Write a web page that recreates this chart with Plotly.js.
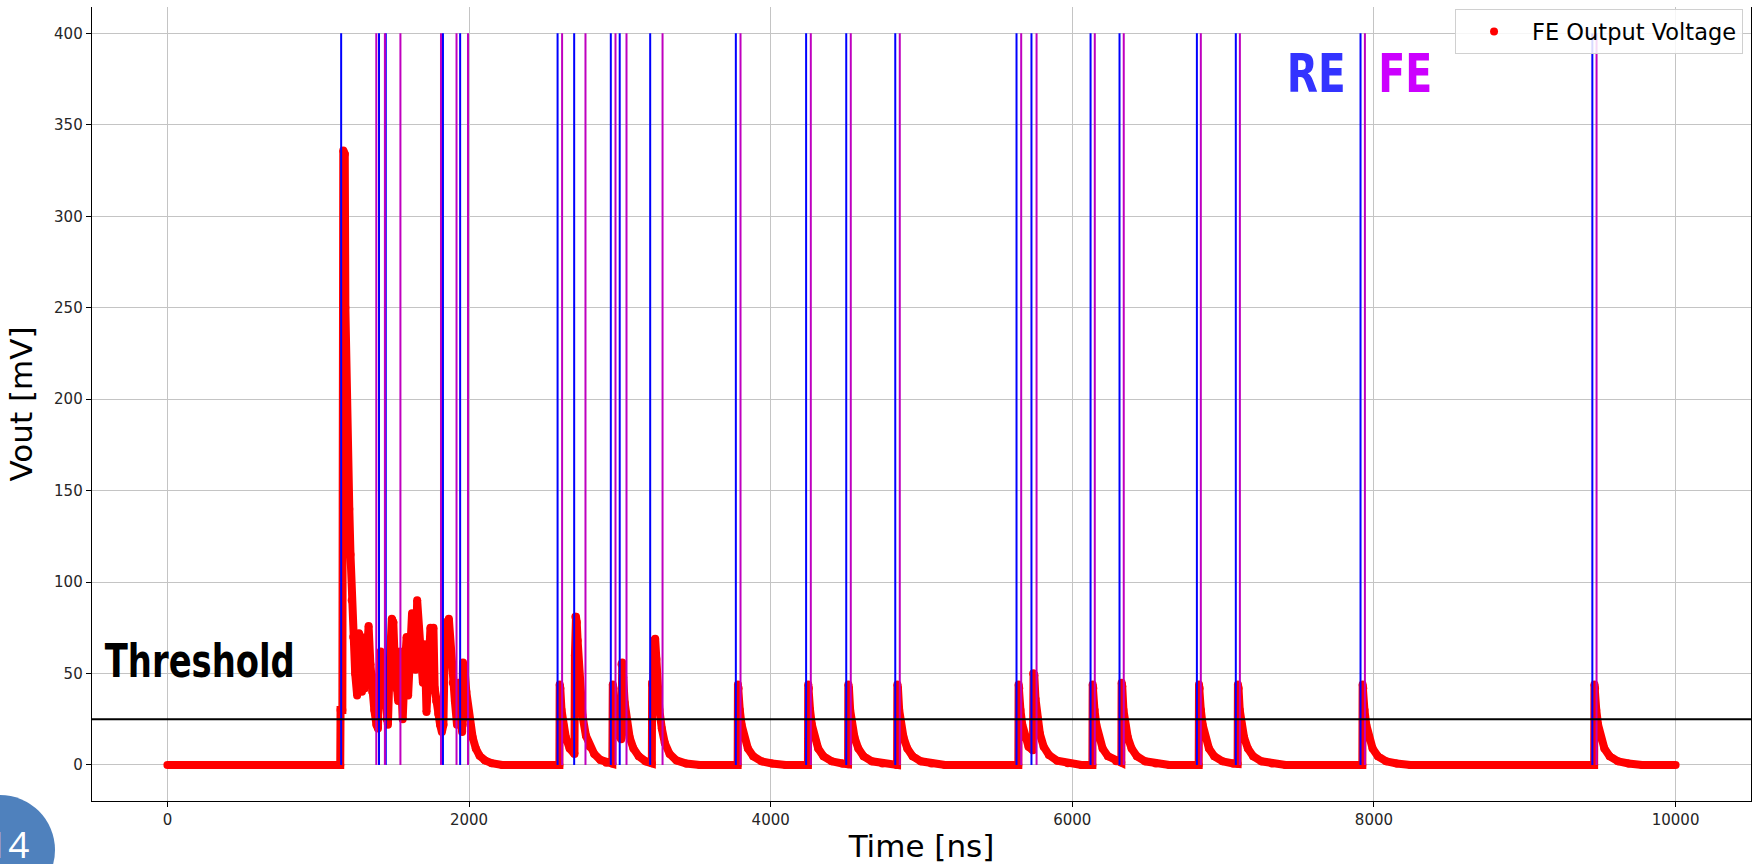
<!DOCTYPE html>
<html>
<head>
<meta charset="utf-8">
<script src="https://cdn.plot.ly/plotly-3.0.1.min.js"></script>
<style>html,body{margin:0;padding:0;background:#fff;}#chart{width:1756px;height:864px;}</style>
</head>
<body>
<div id="chart"></div>
<script>
// FE output voltage (time in ns, voltage in mV)
const timeNs = [
  0, 1146, 1148, 1160, 1166, 1176, 1180, 1186, 1196, 1206, 1214, 1222, 1232, 1245, 1258,
  1270, 1282, 1290, 1300, 1310, 1322, 1334, 1346, 1358, 1372, 1386, 1396, 1404, 1414, 1426,
  1440, 1454, 1462, 1474, 1488, 1498, 1508, 1516, 1530, 1542, 1552, 1560, 1572, 1586, 1596,
  1608, 1622, 1634, 1645, 1656, 1668, 1680, 1694, 1706, 1718, 1730, 1744, 1755, 1764, 1772,
  1782, 1796, 1808, 1820, 1830, 1842, 1856, 1866, 1878, 1892, 1906, 1920, 1932, 1944, 1954,
  1960, 1970, 1982, 1994, 2008, 2024, 2045, 2070, 2105, 2150, 2220,
  2599, 2601, 2605, 2613, 2625, 2642, 2667, 2699,
  2702, 2705, 2709, 2714, 2720, 2728, 2738, 2752, 2775, 2800, 2830, 2870, 2910, 2950,
  2953, 2957, 2966, 2978, 2995, 3009,
  3011, 3016, 3022, 3032, 3046, 3065, 3090, 3125, 3170, 3212,
  3214, 3222, 3228, 3234, 3242, 3250, 3262, 3278, 3298, 3330, 3375, 3440, 3530,
  3781, 3783, 3787, 3795, 3807, 3824, 3849, 3884, 3939, 4009, 4099,
  4247, 4249, 4253, 4261, 4273, 4290, 4315, 4350, 4405, 4475, 4513,
  4515, 4519, 4527, 4539, 4556, 4581, 4616, 4671, 4741, 4836,
  4838, 4840, 4844, 4852, 4864, 4881, 4906, 4941, 4996, 5066, 5156,
  5642, 5644, 5648, 5656, 5668, 5685, 5710, 5739,
  5741, 5743, 5748, 5756, 5768, 5785, 5810, 5845, 5900, 5970, 6060,
  6133, 6135, 6139, 6147, 6159, 6176, 6201, 6236, 6291, 6325,
  6327, 6331, 6339, 6351, 6368, 6393, 6428, 6483, 6553, 6643,
  6838, 6840, 6844, 6852, 6864, 6881, 6906, 6941, 6996, 7066, 7096,
  7098, 7102, 7110, 7122, 7139, 7164, 7199, 7254, 7324, 7414,
  7923, 7925, 7929, 7937, 7949, 7966, 7991, 8026, 8081, 8151, 8241,
  9460, 9462, 9466, 9474, 9486, 9503, 9528, 9563, 9618, 9688, 9778, 10000
];
const voutMv = [
  0, 0, 30, 30, 336, 334, 250, 200, 170, 140, 115, 90, 70, 50, 38,
  72, 70, 40, 55, 42, 70, 76, 55, 40, 30, 22, 20, 48, 62, 55,
  38, 25, 22, 55, 80, 78, 55, 42, 35, 62, 45, 25, 50, 70, 38,
  62, 83, 62, 52, 90, 75, 58, 45, 66, 29, 50, 75, 55, 75, 42,
  35, 28, 22, 18, 22, 78, 62, 80, 62, 45, 35, 22, 45, 30, 18,
  56, 52, 40, 30, 22, 15, 9, 5, 2.5, 1, 0,
  0, 44, 42, 30, 22, 15, 9, 6,
  60, 81, 81, 78, 68, 52, 40, 27, 16, 10, 6, 2.8, 1.2, 0.8,
  44, 42, 30, 22, 16, 14,
  55, 56, 48, 34, 23, 15, 9, 4.8, 2, 0.9,
  44, 44, 68, 69, 58, 42, 30, 20, 12, 6, 2.5, 0.8, 0,
  0, 44, 42, 30, 22, 15, 9, 4.8, 2, 0.8, 0,
  0, 44, 42, 30, 22, 15, 9, 4.8, 2, 0.8, 0.4,
  44, 42, 30, 22, 15, 9, 4.8, 2, 0.8, 0.1,
  0, 44, 42, 30, 22, 15, 9, 4.8, 2, 0.8, 0,
  0, 44, 42, 30, 22, 15, 10, 8,
  50, 50, 49, 36, 26, 17, 10, 5.5, 2.3, 0.9, 0,
  0, 44, 42, 30, 22, 15, 9, 4.8, 2, 1.3,
  45, 43, 30, 22, 15, 9, 4.8, 2, 0.8, 0,
  0, 44, 42, 30, 22, 15, 9, 4.8, 2, 0.8, 0.6,
  44, 42, 30, 22, 15, 9, 4.8, 2, 0.8, 0,
  0, 44, 42, 30, 22, 15, 9, 4.8, 2, 0.8, 0,
  0, 44, 42, 30, 22, 15, 9, 4.8, 2, 0.8, 0, 0
];
// Rising-edge (RE) and falling-edge (FE) event times, ns
const reTimes = [1152, 1403, 1448, 1827, 1941, 2587, 2697, 2940, 2999, 3201, 3769, 4235,
  4501, 4826, 5630, 5729, 6121, 6313, 6826, 7084, 7911, 9448];
const feTimes = [1385, 1442, 1545, 1814, 1917, 1993, 2617, 2772, 2971, 3044, 3283, 3800,
  4266, 4531, 4856, 5661, 5763, 6149, 6341, 6852, 7111, 7940, 9476];
const eventLineTop = 400;   // mV, height of event lines
const threshold = 25;       // mV
const xTicks = [0, 2000, 4000, 6000, 8000, 10000];
const yTicks = [0, 50, 100, 150, 200, 250, 300, 350, 400];

function vlines(ts) {
  const x = [], y = [];
  ts.forEach(t => { x.push(t, t, null); y.push(0, eventLineTop, null); });
  return {x, y};
}
const re = vlines(reTimes), fe = vlines(feTimes);

const traces = [
  {x: timeNs, y: voutMv, type: 'scatter', mode: 'lines', showlegend: false,
   line: {color: '#ff0000', width: 8}, hoverinfo: 'skip'},
  {x: timeNs, y: voutMv, type: 'scatter', mode: 'markers', name: 'FE Output Voltage',
   marker: {color: '#ff0000', size: 8}},
  {x: re.x, y: re.y, type: 'scatter', mode: 'lines', showlegend: false,
   line: {color: '#0000ff', width: 2}},
  {x: fe.x, y: fe.y, type: 'scatter', mode: 'lines', showlegend: false,
   line: {color: '#bf00bf', width: 2}}
];

const narrow = 'DejaVu Sans Condensed, DejaVu Sans, sans-serif';
const layout = {
  width: 1756, height: 864,
  margin: {l: 92, r: 5, t: 7, b: 63},
  paper_bgcolor: '#ffffff', plot_bgcolor: '#ffffff',
  font: {family: 'DejaVu Sans, sans-serif', color: '#000'},
  showlegend: true,
  legend: {x: 0.9952, y: 0.997, xanchor: 'right', yanchor: 'top', itemwidth: 66,
    bgcolor: 'rgba(255,255,255,0.85)', bordercolor: '#d0d0d0', borderwidth: 1,
    font: {size: 22.5, family: 'DejaVu Sans, sans-serif', color: '#000'}},
  xaxis: {
    range: [-500, 10500], tickmode: 'array', tickvals: xTicks, ticktext: xTicks.map(String),
    showgrid: true, gridcolor: '#c4c4c4', gridwidth: 1, zeroline: false,
    showline: true, linecolor: '#000', linewidth: 1.3, mirror: false,
    ticks: 'outside', ticklen: 5, tickcolor: '#000',
    tickfont: {size: 15, color: '#262626'},
    title: {text: 'Time [ns]', font: {size: 31, color: '#000'}, standoff: 9},
    automargin: false
  },
  yaxis: {
    range: [-19.7, 414.4], tickmode: 'array', tickvals: yTicks, ticktext: yTicks.map(String),
    showgrid: true, gridcolor: '#c4c4c4', gridwidth: 1, zeroline: false,
    showline: true, linecolor: '#000', linewidth: 1.3, mirror: true,
    ticks: 'outside', ticklen: 5, tickcolor: '#000',
    tickfont: {size: 15, color: '#262626'},
    title: {text: 'Vout [mV]', font: {size: 31, color: '#000'}, standoff: 12},
    automargin: false
  },
  shapes: [
    {type: 'line', xref: 'paper', x0: 0, x1: 1, yref: 'y', y0: threshold, y1: threshold,
     line: {color: '#000', width: 2}, layer: 'above'},
    {type: 'circle', xref: 'paper', yref: 'paper', x0: -0.0887, x1: -0.0223, y0: -0.131, y1: 0.0076,
     fillcolor: '#4f81bd', line: {width: 0}, layer: 'above'}
  ],
  annotations: [
    {x: 219, y: 57, xref: 'x', yref: 'y', text: 'Threshold', showarrow: false,
     font: {family: narrow, size: 47, color: '#000', weight: 700}, xanchor: 'center', yanchor: 'middle'},
    {x: 7617, y: 378, xref: 'x', yref: 'y', text: 'RE', showarrow: false,
     font: {family: narrow, size: 54, color: '#3333ff', weight: 700}, xanchor: 'center', yanchor: 'middle'},
    {x: 8203, y: 378, xref: 'x', yref: 'y', text: 'FE', showarrow: false,
     font: {family: narrow, size: 54, color: '#cc00ff', weight: 700}, xanchor: 'center', yanchor: 'middle'},
    {x: -0.0368, y: -0.053, xref: 'paper', yref: 'paper', text: '14', showarrow: false,
     font: {family: 'Open Sans, sans-serif', size: 37, color: '#ffffff'}, xanchor: 'right', yanchor: 'middle'}
  ]
};

// target ink widths (px) of the condensed bold labels in the picture
const labelWidths = {'Threshold': 190, 'RE': 59, 'FE': 54};

Plotly.newPlot('chart', traces, layout, {displayModeBar: false, staticPlot: true}).then(gd => {
  gd.querySelectorAll('.annotation-text').forEach(t => {
    const w = labelWidths[t.textContent];
    if (w) {
      t.setAttribute('textLength', w);
      t.setAttribute('lengthAdjust', 'spacingAndGlyphs');
    }
  });
});
</script>
</body>
</html>
